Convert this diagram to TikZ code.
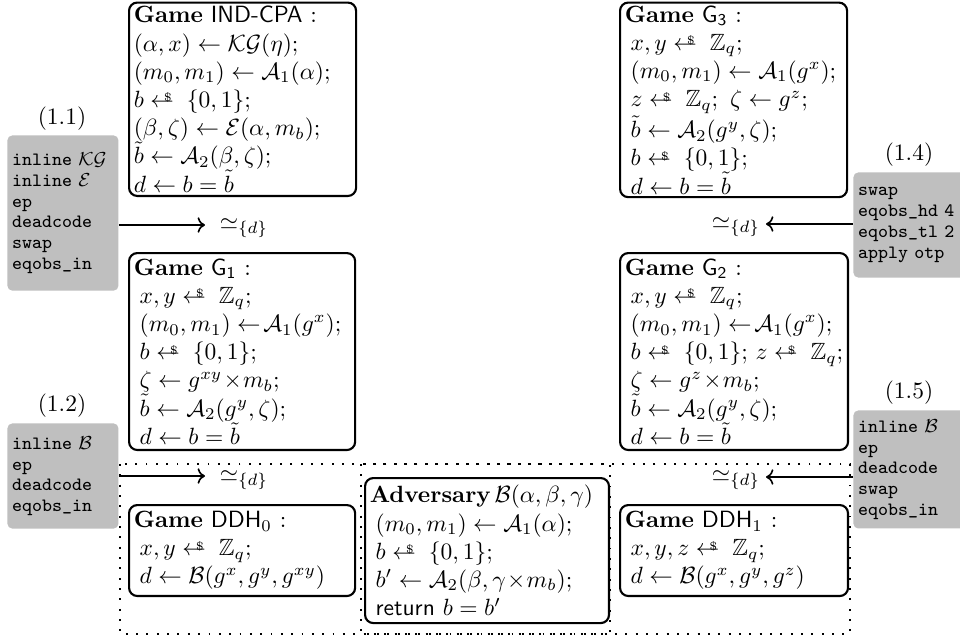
\documentclass[tikz,border=0pt]{standalone}
\usepackage{amsmath,amssymb}
\usetikzlibrary{arrows.meta}
\newcommand\rnd{\mathrel{\leftarrow\llap{\raisebox{2.4pt}{$\scriptscriptstyle\$$}\hspace{3.6pt}}}}
\newcommand\bl[1]{\mbox{\hspace*{2.5pt}$#1$}}
\newcommand\gl[1]{\mbox{$#1$}}
\newcommand\gtitle[1]{\mbox{\textbf{Game} #1 :}}
\begin{document}
\begin{tikzpicture}[x=0.4255pt,y=-0.4255pt,
  game/.style={draw, line width=0.9pt, rounded corners=3.5pt, anchor=north west,
    inner xsep=2pt, inner ysep=0pt, align=left, font=\normalsize},
  hint/.style={fill=black!25, rounded corners=2pt, anchor=north west,
    inner xsep=2pt, inner ysep=0pt, align=left, font=\ttfamily\fontsize{8}{8.8}\selectfont},
  tag/.style={inner sep=1pt},
  eqv/.style={inner sep=1pt},
  link/.style={->, line width=0.7pt},
  dotframe/.style={line width=0.8pt, dash pattern=on 0.8pt off 3.6pt}]
\useasboundingbox (0,0) rectangle (960,638);

% dotted frames
\draw[dotframe] (120,464) rectangle (610,634);
\draw[dotframe] (361,464) rectangle (850,634);

% games
\node[game, text width=92.6pt, minimum width=96.6pt, minimum height=82.3pt] (indcpa) at (128,1.5) {%
\gtitle{\textsf{IND-CPA}}\\
\gl{(\alpha,x)\leftarrow\mathcal{KG}(\eta);}\\
\gl{(m_0,m_1)\leftarrow\mathcal{A}_1(\alpha);}\\
\gl{b\rnd\{0,1\};}\\
\gl{(\beta,\zeta)\leftarrow\mathcal{E}(\alpha,m_b);}\\
\gl{\tilde{b}\leftarrow\mathcal{A}_2(\beta,\zeta);}\\
\gl{d\leftarrow b=\tilde{b}}};

\node[game, text width=92.6pt, minimum width=96.6pt, minimum height=82.8pt] (g3) at (619,1.5) {%
\gtitle{$\mathsf{G_3}$}\\
\bl{x,y\rnd\mathbb{Z}_q;}\\
\bl{(m_0,m_1)\leftarrow\mathcal{A}_1(g^x);}\\
\bl{z\rnd\mathbb{Z}_q;\ \zeta\leftarrow g^z;}\\
\bl{\tilde{b}\leftarrow\mathcal{A}_2(g^y,\zeta);}\\
\bl{b\rnd\{0,1\};}\\
\bl{d\leftarrow b=\tilde{b}}};

\node[game, text width=92.2pt, minimum width=96.2pt, minimum height=83.8pt] (g1) at (128,252) {%
\gtitle{$\mathsf{G_1}$}\\
\bl{x,y\rnd\mathbb{Z}_q;}\\
\bl{(m_0,m_1)\leftarrow\!\mathcal{A}_1(g^x);}\\
\bl{b\rnd\{0,1\};}\\
\bl{\zeta\leftarrow g^{xy}\!\times\! m_b;}\\
\bl{\tilde{b}\leftarrow\mathcal{A}_2(g^y,\zeta);}\\
\bl{d\leftarrow b=\tilde{b}}};

\node[game, text width=93pt, minimum width=97pt, minimum height=83.8pt] (g2) at (619,252) {%
\gtitle{$\mathsf{G_2}$}\\
\bl{x,y\rnd\mathbb{Z}_q;}\\
\bl{(m_0,m_1)\leftarrow\!\mathcal{A}_1(g^x);}\\
\bl{b\rnd\{0,1\};\,z\rnd\mathbb{Z}_q;}\\
\bl{\zeta\leftarrow g^z\!\times\! m_b;}\\
\bl{\tilde{b}\leftarrow\mathcal{A}_2(g^y,\zeta);}\\
\bl{d\leftarrow b=\tilde{b}}};

\node[game, text width=92.2pt, minimum width=96.2pt, minimum height=38.7pt] (ddh0) at (128,504) {%
\gtitle{$\mathsf{DDH}_0$}\\
\bl{x,y\rnd\mathbb{Z}_q;}\\
\bl{d\leftarrow\mathcal{B}(g^x,g^y,g^{xy})}};

\node[game, text width=99.8pt, minimum width=103.8pt, minimum height=61.7pt] (adv) at (364,477) {%
\mbox{\textbf{Adversary}\,$\mathcal{B}(\alpha,\beta,\gamma)$}\\
\bl{(m_0,m_1)\leftarrow\mathcal{A}_1(\alpha);}\\
\bl{b\rnd\{0,1\};}\\
\bl{b'\leftarrow\mathcal{A}_2(\beta,\gamma\!\times\! m_b);}\\
\mbox{\hspace*{2.5pt}\textsf{return} $b=b'$}};

\node[game, text width=93pt, minimum width=97pt, minimum height=38.7pt] (ddh1) at (619,504) {%
\gtitle{$\mathsf{DDH}_1$}\\
\bl{x,y,z\rnd\mathbb{Z}_q;}\\
\bl{d\leftarrow\mathcal{B}(g^x,g^y,g^z)}};

% hint boxes
\node[hint, text width=43.2pt, minimum height=66pt] (h11) at (7,135) {%
\mbox{inline $\mathcal{KG}$}\\ \mbox{inline $\mathcal{E}$}\\ ep\\ deadcode\\ swap\\ eqobs\_in};
\node[hint, text width=43.2pt, minimum height=44.7pt] (h12) at (7,423) {%
\mbox{inline $\mathcal{B}$}\\ ep\\ deadcode\\ eqobs\_in};
\node[hint, text width=45pt, minimum height=44.7pt] (h14) at (853,172) {%
swap\\ \mbox{eqobs\_hd 4}\\ \mbox{eqobs\_tl 2}\\ \mbox{apply otp}};
\node[hint, text width=45pt, minimum height=50.2pt] (h15) at (853,410) {%
\mbox{inline $\mathcal{B}$}\\ ep\\ deadcode\\ swap\\ eqobs\_in};

% tags
\node[tag] (t11) at (62,119) {(1.1)};
\node[tag] (t12) at (62,406) {(1.2)};
\node[tag] (t14) at (909,155) {(1.4)};
\node[tag] (t15) at (909,393) {(1.5)};

% equivalence labels
\node[eqv] (e11) at (244,228) {$\simeq_{\{d\}}$};
\node[eqv] (e12) at (244,480) {$\simeq_{\{d\}}$};
\node[eqv] (e14) at (736,227) {$\simeq_{\{d\}}$};
\node[eqv] (e15) at (736,480) {$\simeq_{\{d\}}$};

% arrow ends
\coordinate (a11) at (205,225);
\coordinate (a12) at (205,476);
\coordinate (a14) at (766,224);
\coordinate (a15) at (766,477);
\draw[link] (h11.east |- a11) -- (a11);
\draw[link] (h12.east |- a12) -- (a12);
\draw[link] (h14.west |- a14) -- (a14);
\draw[link] (h15.west |- a15) -- (a15);
\end{tikzpicture}
\end{document}
